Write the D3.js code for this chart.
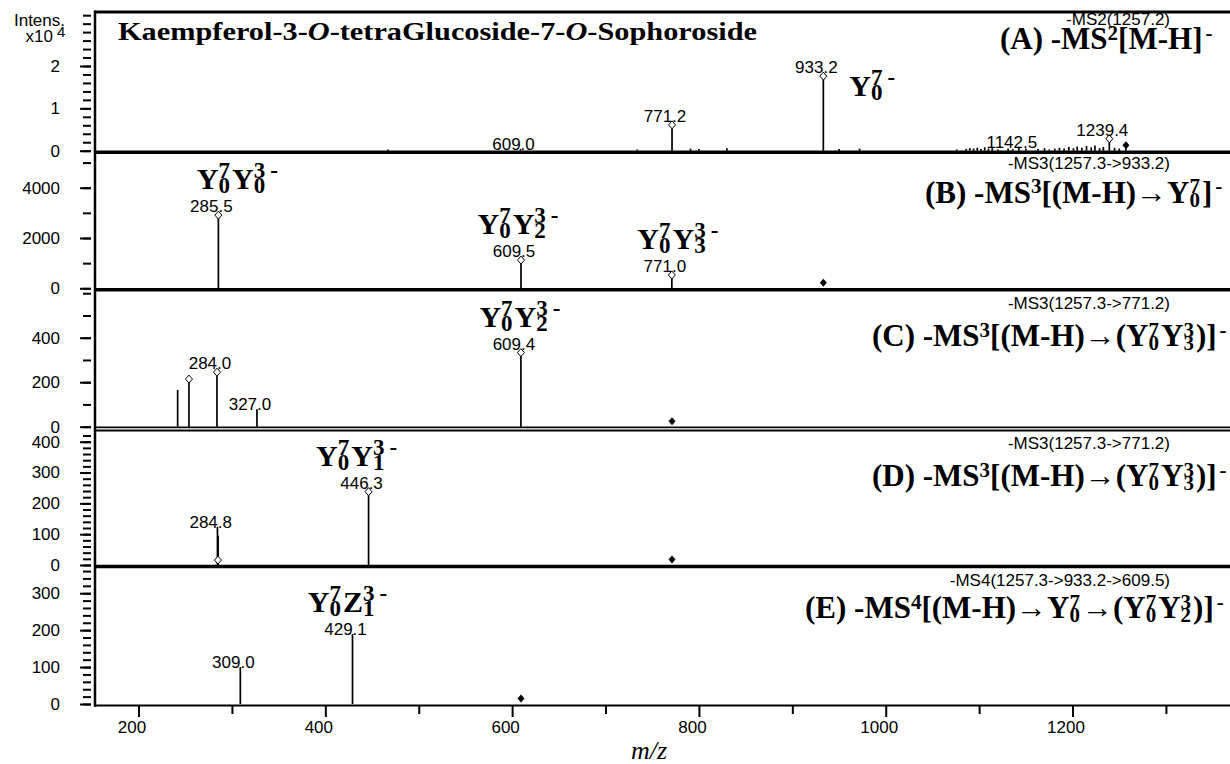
<!DOCTYPE html>
<html>
<head>
<meta charset="utf-8">
<script src="https://cdn.jsdelivr.net/npm/d3@7/dist/d3.min.js"></script>
<style>
body { margin: 0; background: #fff; }
svg { display: block; }
text { fill: #000; }
.sans { font-family: "Liberation Sans", Arial, sans-serif; font-size: 17px; }
.serif { font-family: "Liberation Serif", "Times New Roman", serif; font-weight: bold; }
</style>
</head>
<body>
<svg id="chart" width="1230" height="764"></svg>
<script>
// m/z axis

var mzDomain = [153.4, 1368.6];
var mzTicks = [200, 400, 600, 800, 1000, 1200];
var mzMinorTicks = [300, 500, 700, 900, 1100, 1300];

// one entry per panel (A..E)

var panelMax = [32750, 5400, 610, 438, 371];
var panelTicks = [[0, 10000, 20000], [0, 2000, 4000], [0, 200, 400], [0, 100, 200, 300, 400], [0, 100, 200, 300]];
var panelMinorStep = [2000, 1000, 100, 20, 20];
var msnTitles = ["-MS2(1257.2)", "-MS3(1257.3->933.2)", "-MS3(1257.3->771.2)", "-MS3(1257.3->771.2)", "-MS4(1257.3->933.2->609.5)"];
var precursors = [1257.2, 933.2, 771.2, 771.2, 609.5];

// peaks [m/z, intensity]

var peaksA = [[467, 300], [609.0, 400], [734, 300], [771.2, 6100], [791, 500], [800, 400], [830, 600],
  [933.2, 17600], [950, 400], [972, 500], [1076, 300], [1086, 400], [1090, 600], [1094, 500], [1098, 700],
  [1102, 400], [1106, 800], [1110, 500], [1114, 600], [1120, 300], [1131, 500], [1136, 400], [1142.5, 900],
  [1150, 500], [1163, 400], [1170, 600], [1175, 300], [1181, 500], [1186, 700], [1191, 500], [1196, 900],
  [1201, 600], [1205, 1000], [1210, 700], [1215, 1100], [1220, 800], [1224, 1200], [1229, 600], [1233, 900],
  [1239.4, 2800], [1245, 700], [1250, 500], [1257.2, 600]];
var peaksB = [[285.5, 2910], [609.5, 1120], [771.0, 530]];
var peaksC = [[241.9, 165], [254.0, 214], [284.0, 245], [326.8, 78], [609.4, 333]];
var peaksD = [[284.5, 124], [285.2, 96], [285.0, 16], [446.3, 238]];
var peaksE = [[309.0, 100], [429.1, 190]];

// open diamond markers [m/z, intensity]

var diamondsA = [[771.2, 6100], [933.2, 17600], [1239.4, 2800]];
var diamondsB = [[285.5, 2910], [609.5, 1120], [771.0, 530]];
var diamondsC = [[254.0, 214], [284.0, 245], [609.4, 333]];
var diamondsD = [[285.0, 16], [446.3, 238]];
var diamondsE = [];

// peak labels [m/z, intensity, text]

var labelsA = [[609.0, 400, "609.0"], [771.2, 6100, "771.2"], [933.2, 17600, "933.2"], [1142.5, 900, "1142.5"], [1239.4, 2800, "1239.4"]];
var labelsB = [[285.5, 2910, "285.5"], [609.5, 1120, "609.5"], [771.0, 530, "771.0"]];
var labelsC = [[284.0, 245, "284.0"], [326.8, 78, "327.0"], [609.4, 333, "609.4"]];
var labelsD = [[284.8, 124, "284.8"], [446.3, 238, "446.3"]];
var labelsE = [[309.0, 100, "309.0"], [429.1, 190, "429.1"]];

// fragment ion names, stacked super/subscripts as {sup, sub}

var fragA = [{ mz: 933.2, v: 17600, parts: [{ t: "Y" }, { sup: "7", sub: "0" }, { sup: "-" }] }];
var fragB = [
  { mz: 285.5, v: 2910, parts: [{ t: "Y" }, { sup: "7", sub: "0" }, { t: "Y" }, { sup: "3", sub: "0" }, { sup: "-" }] },
  { mz: 609.5, v: 1120, parts: [{ t: "Y" }, { sup: "7", sub: "0" }, { t: "Y" }, { sup: "3", sub: "2" }, { sup: "-" }] },
  { mz: 771.0, v: 530, parts: [{ t: "Y" }, { sup: "7", sub: "0" }, { t: "Y" }, { sup: "3", sub: "3" }, { sup: "-" }] }];
var fragC = [{ mz: 609.4, v: 333, parts: [{ t: "Y" }, { sup: "7", sub: "0" }, { t: "Y" }, { sup: "3", sub: "2" }, { sup: "-" }] }];
var fragD = [{ mz: 446.3, v: 238, parts: [{ t: "Y" }, { sup: "7", sub: "0" }, { t: "Y" }, { sup: "3", sub: "1" }, { sup: "-" }] }];
var fragE = [{ mz: 429.1, v: 190, parts: [{ t: "Y" }, { sup: "7", sub: "0" }, { t: "Z" }, { sup: "3", sub: "1" }, { sup: "-" }] }];

// experiment names

var expLabels = [
  [{ t: "(A) -MS" }, { sup: "2" }, { t: "[M-H]" }, { sup: "-" }],
  [{ t: "(B) -MS" }, { sup: "3" }, { t: "[(M-H)\u2192Y" }, { sup: "7", sub: "0" }, { t: "]" }, { sup: "-" }],
  [{ t: "(C) -MS" }, { sup: "3" }, { t: "[(M-H)\u2192(Y" }, { sup: "7", sub: "0" }, { t: "Y" }, { sup: "3", sub: "3" }, { t: ")]" }, { sup: "-" }],
  [{ t: "(D) -MS" }, { sup: "3" }, { t: "[(M-H)\u2192(Y" }, { sup: "7", sub: "0" }, { t: "Y" }, { sup: "3", sub: "3" }, { t: ")]" }, { sup: "-" }],
  [{ t: "(E) -MS" }, { sup: "4" }, { t: "[(M-H)\u2192Y" }, { sup: "7", sub: "0" }, { t: "\u2192(Y" }, { sup: "7", sub: "0" }, { t: "Y" }, { sup: "3", sub: "2" }, { t: ")]" }, { sup: "-" }]];

// layout

var panelTop = [12, 152.5, 291, 430, 567];
var panelBase = [150.7, 288.3, 426.7, 565, 704];
var headerDy = [13, 16, 18, 19, 19];
var expX = [1000, 925, 872, 872, 805];
var expDy = [37, 50, 55, 56, 51];
var fragDx = [[26], [19, -3, 6], [-1], [-12], [-5]];

var peaks = [peaksA, peaksB, peaksC, peaksD, peaksE];
var diamonds = [diamondsA, diamondsB, diamondsC, diamondsD, diamondsE];
var labels = [labelsA, labelsB, labelsC, labelsD, labelsE];
var frags = [fragA, fragB, fragC, fragD, fragE];

var svg = d3.select("#chart");
var x = d3.scaleLinear().domain(mzDomain).range([95, 1230]);
var sansFont = "'Liberation Sans', Arial, sans-serif";

// rich text with stacked super/subscripts (Times digits are 0.5em wide)

function richText(sel, parts, size, small, raise)
{
  var shift = 0, stacked = false;
  var up = -raise * size, down = 0.14 * size;
  parts.forEach(function(p) {
    var gap = stacked ? 2 : 0;
    stacked = false;
    if (p.t != null) {
      sel.append("tspan").attr("dx", gap).attr("dy", -shift).style("font-size", size + "px").text(p.t);
      shift = 0;
      return;
    }
    if (p.sup != null) {
      sel.append("tspan").attr("dx", p.sup == "-" ? gap + 3 : gap).attr("dy", up - shift)
        .style("font-size", small + "px").text(p.sup);
      shift = up;
    }
    if (p.sub != null) {
      var t = sel.append("tspan").attr("dy", down - shift).style("font-size", small + "px").text(p.sub);
      if (p.sup != null) t.attr("dx", -0.5 * small);
      shift = down;
      stacked = true;
    }
  });
}

function diamond(cx, cy)
{
  return "M" + cx + "," + (cy - 4) + "L" + (cx + 3.5) + "," + cy + "L" + cx + "," + (cy + 4) + "L" + (cx - 3.5) + "," + cy + "Z";
}

function styleTicks(a)
{
  a.select(".domain").remove();
  a.selectAll("line").attr("stroke-width", 2);
  a.selectAll("text").attr("font-size", null).attr("font-family", null)
    .style("font-size", "17px").style("font-family", sansFont);
}

panelMax.forEach(function(maxV, i)
{
  var y = d3.scaleLinear().domain([0, maxV]).range([panelBase[i], panelTop[i]]);
  var g = svg.append("g");

  // y axis ticks

  g.append("g").attr("transform", "translate(91,0)")
    .call(d3.axisLeft(y).tickValues(d3.range(0, maxV, panelMinorStep[i])).tickSize(8).tickFormat(""))
    .call(styleTicks);

  g.append("g").attr("transform", "translate(91,0)")
    .call(d3.axisLeft(y).tickValues(panelTicks[i]).tickSize(11).tickPadding(20)
      .tickFormat(function(d) { return i == 0 ? d / 10000 : d; }))
    .call(styleTicks);

  // separator under the panel

  if (i == 2) {
    g.append("line").attr("x1", 95).attr("x2", 1230).attr("y1", y(0) + 0.6).attr("y2", y(0) + 0.6)
      .attr("stroke", "#000").attr("stroke-width", 1.6);
    g.append("line").attr("x1", 95).attr("x2", 1230).attr("y1", y(0) + 2.4).attr("y2", y(0) + 2.4)
      .attr("stroke", "#999").attr("stroke-width", 1.2);
    g.append("line").attr("x1", 95).attr("x2", 1230).attr("y1", y(0) + 4).attr("y2", y(0) + 4)
      .attr("stroke", "#000").attr("stroke-width", 1.8);
  } else {
    g.append("line").attr("x1", 95).attr("x2", 1230)
      .attr("y1", y(0) + 1.5).attr("y2", y(0) + 1.5)
      .attr("stroke", "#000").attr("stroke-width", i == 4 ? 2.2 : 3.5);
  }

  // sticks

  g.selectAll(".peak").data(peaks[i]).enter().append("line")
    .attr("class", "peak")
    .attr("x1", function(d) { return x(d[0]); })
    .attr("x2", function(d) { return x(d[0]); })
    .attr("y1", y(0))
    .attr("y2", function(d) { return y(d[1]); })
    .attr("stroke", "#000").attr("stroke-width", 1.7);

  g.selectAll(".dia").data(diamonds[i]).enter().append("path")
    .attr("class", "dia")
    .attr("d", function(d) { return diamond(x(d[0]), y(d[1])); })
    .attr("fill", "#fff").attr("stroke", "#000").attr("stroke-width", 1);

  // precursor marker

  g.append("path").attr("d", diamond(x(precursors[i]), y(0) - 5.5)).attr("fill", "#000");

  // peak labels

  var isDia = function(d) { return diamonds[i].some(function(e) { return e[0] == d[0]; }); };
  var labelY = function(d) { return isDia(d) ? y(d[1]) - 3 : y(d[1]) + 1; };

  g.selectAll(".plab").data(labels[i]).enter().append("text")
    .attr("class", "sans plab")
    .attr("text-anchor", "middle")
    .attr("x", function(d) { return x(d[0]) - 7; })
    .attr("y", labelY)
    .text(function(d) { return d[2]; });

  // fragment names

  frags[i].forEach(function(f, k) {
    var t = g.append("text").attr("class", "serif");
    var lab = labels[i].filter(function(d) { return d[0] == f.mz; })[0] || [f.mz, f.v];
    if (i == 0) {
      t.attr("x", x(f.mz) + fragDx[i][k]).attr("y", y(f.v) + 20);
    } else {
      t.attr("text-anchor", "middle").attr("x", x(f.mz) + fragDx[i][k]).attr("y", labelY(lab) - 23);
    }
    richText(t, f.parts, 30, 23, 0.36);
  });

  // headers

  g.append("text").attr("class", "sans").attr("text-anchor", "end")
    .attr("x", 1170).attr("y", panelTop[i] + headerDy[i]).text(msnTitles[i]);

  var e = g.append("text").attr("class", "serif").attr("x", expX[i]).attr("y", panelTop[i] + expDy[i]);
  richText(e, expLabels[i], 31, 21, 0.3);
});

// frame

svg.append("line").attr("x1", 95).attr("x2", 1230).attr("y1", 12).attr("y2", 12)
  .attr("stroke", "#000").attr("stroke-width", 3);
svg.append("line").attr("x1", 95).attr("x2", 95).attr("y1", 10.5).attr("y2", 706.8)
  .attr("stroke", "#000").attr("stroke-width", 2.5);

// m/z axis

svg.append("g").attr("transform", "translate(0,706)")
  .call(d3.axisBottom(x).tickValues(mzMinorTicks).tickSize(8).tickFormat(""))
  .call(styleTicks);

svg.append("g").attr("transform", "translate(0,706)")
  .call(d3.axisBottom(x).tickValues(mzTicks).tickSize(11).tickPadding(4).tickFormat(d3.format("d")))
  .call(styleTicks)
  .call(function(a) { a.selectAll("text").attr("dx", -7); });

svg.append("text").attr("x", 649).attr("y", 759).attr("text-anchor", "middle")
  .style("font-family", "'Liberation Serif', 'Times New Roman', serif")
  .style("font-style", "italic").style("font-size", "26px").text("m/z");

// intensity caption

svg.append("text").attr("class", "sans").attr("x", 65).attr("y", 26).attr("text-anchor", "end").text("Intens.");
svg.append("text").attr("class", "sans").attr("x", 53).attr("y", 42).attr("text-anchor", "end").text("x10");
svg.append("text").attr("class", "sans").attr("x", 57).attr("y", 37).style("font-size", "15px").text("4");

// title

var title = svg.append("text").attr("class", "serif").attr("x", 118).attr("y", 40)
  .attr("textLength", 639).attr("lengthAdjust", "spacingAndGlyphs").style("font-size", "26px");
title.append("tspan").text("Kaempferol-3-");
title.append("tspan").style("font-style", "italic").text("O");
title.append("tspan").text("-tetraGlucoside-7-");
title.append("tspan").style("font-style", "italic").text("O");
title.append("tspan").text("-Sophoroside");
</script>
</body>
</html>
